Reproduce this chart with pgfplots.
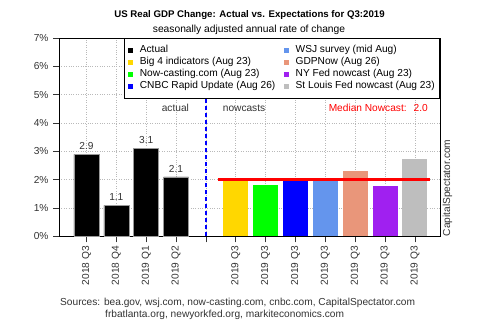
\documentclass[border=0pt]{standalone}
\usepackage{fontspec}
\setmainfont{Liberation Sans}
\usepackage{pgfplots}
\pgfplotsset{compat=1.18}
\definecolor{cgold}{HTML}{FFD700}
\definecolor{cgreen}{HTML}{00FF00}
\definecolor{cblue}{HTML}{0000FF}
\definecolor{ccorn}{HTML}{6495ED}
\definecolor{csalmon}{HTML}{E9967A}
\definecolor{cpurple}{HTML}{A020F0}
\definecolor{cgray}{HTML}{BEBEBE}
\definecolor{ctick}{HTML}{333333}
\newcommand\fs{\fontsize{10.2}{12}\selectfont}
\pgfplotsset{sq/.style={legend image code/.code={\path[draw=none,fill=none] (0bp,0bp) -- (10.6bp,0bp); \fill[##1,draw=none] (0bp,-2.5bp) rectangle (5bp,2.5bp);}}}
\begin{document}
\begin{tikzpicture}
\path[use as bounding box] (0,0) rectangle (500bp,333bp);
\node[font=\fontsize{9.7}{12}\selectfont\bfseries] at (249.5bp,318bp) {US Real GDP Change: Actual vs. Expectations for Q3:2019};
\node[font=\fontsize{10.3}{12}\selectfont] at (249bp,303bp) {seasonally adjusted annual rate of change};
\node[font=\fs, anchor=west, inner sep=0pt, text=ctick] at (60bp,30bp) {Sources: bea.gov, wsj.com, now-casting.com, cnbc.com, CapitalSpectator.com};
\node[font=\fs, anchor=west, inner sep=0pt, text=ctick] at (105bp,18bp) {frbatlanta.org, newyorkfed.org, markiteconomics.com};
\begin{axis}[
  name=ax,
  at={(59bp,96.5bp)}, anchor=south west,
  scale only axis, width=381bp, height=198.5bp,
  xmin=0.08, xmax=12.84, ymin=0, ymax=7,
  ybar, bar width=0.84, bar shift=0pt,
  xtick={1,2,3,4,5,6,7,8,9,10,11,12},
  xticklabels={2018 Q3,2018 Q4,2019 Q1,2019 Q2,,2019 Q3,2019 Q3,2019 Q3,2019 Q3,2019 Q3,2019 Q3,2019 Q3},
  ytick={0,1,2,3,4,5,6,7},
  yticklabel={\pgfmathprintnumber{\tick}\%},
  /pgf/number format/assume math mode=true,
  tick label style={font=\fs, text=ctick},
  xticklabel style={rotate=90, anchor=east, xshift=0bp},
  yticklabel style={xshift=-1bp},
  xtick pos=bottom, ytick pos=left,
  tick align=outside, major tick length=6bp,
  tick style={ctick, line width=0.6bp},
  grid=major, major grid style={dotted, gray!55, line width=0.6bp},
  axis line style={black, line width=0.7bp},
  legend style={at={(1,1)}, anchor=north east, draw=black, fill=white,
    font=\fs, legend columns=2,
    /tikz/every even column/.append style={column sep=7.7bp},
    nodes={inner xsep=1bp, inner ysep=1bp, text height=7.6bp, text depth=2.2bp},
    inner xsep=4bp, inner ysep=6bp, row sep=0.2bp, line width=0.7bp},
  legend cell align=left,
]
\addplot[fill=black, draw=gray!80, line width=0.5bp, sq,
  nodes near coords={\pgfmathprintnumber[fixed,fixed zerofill,precision=1]{\pgfplotspointmeta}},
  every node near coord/.append style={font=\fs, text=ctick, yshift=1bp}]
  coordinates {(1,2.9) (2,1.1) (3,3.1) (4,2.1)};
\addlegendentry{Actual}
\addplot[fill=ccorn, draw=none, sq] coordinates {(9,1.98)};
\addlegendentry{WSJ survey (mid Aug)}
\addplot[fill=cgold, draw=none, sq] coordinates {(6,2.0)};
\addlegendentry{Big 4 indicators (Aug 23)}
\addplot[fill=csalmon, draw=none, sq] coordinates {(10,2.3)};
\addlegendentry{GDPNow (Aug 26)}
\addplot[fill=cgreen, draw=none, sq] coordinates {(7,1.8)};
\addlegendentry{Now-casting.com (Aug 23)}
\addplot[fill=cpurple, draw=none, sq] coordinates {(11,1.78)};
\addlegendentry{NY Fed nowcast (Aug 23)}
\addplot[fill=cblue, draw=none, sq] coordinates {(8,2.0)};
\addlegendentry{CNBC Rapid Update (Aug 26)}
\addplot[fill=cgray, draw=none, sq] coordinates {(12,2.75)};
\addlegendentry{St Louis Fed nowcast (Aug 23)}
\addplot[sharp plot, draw=blue, line width=1.6bp, dash pattern=on 4bp off 3bp, forget plot] coordinates {(5,0) (5,7)};
\addplot[sharp plot, draw=red, line width=2.6bp, forget plot] coordinates {(5.4,2) (12.5,2)};
\node[anchor=east, font=\fs, text=ctick] at (axis cs:4.55,4.53) {actual};
\node[anchor=west, font=\fs, text=ctick] at (axis cs:5.45,4.53) {nowcasts};
\node[anchor=east, font=\fs, text=red] at (axis cs:12.55,4.53) {Median Nowcast:\hspace{7bp}2.0};
\end{axis}
\node[rotate=90, anchor=north west, font=\fs, text=ctick, inner sep=0pt] at ([xshift=2.5bp]ax.south east) {CapitalSpectator.com};
\end{tikzpicture}
\end{document}
